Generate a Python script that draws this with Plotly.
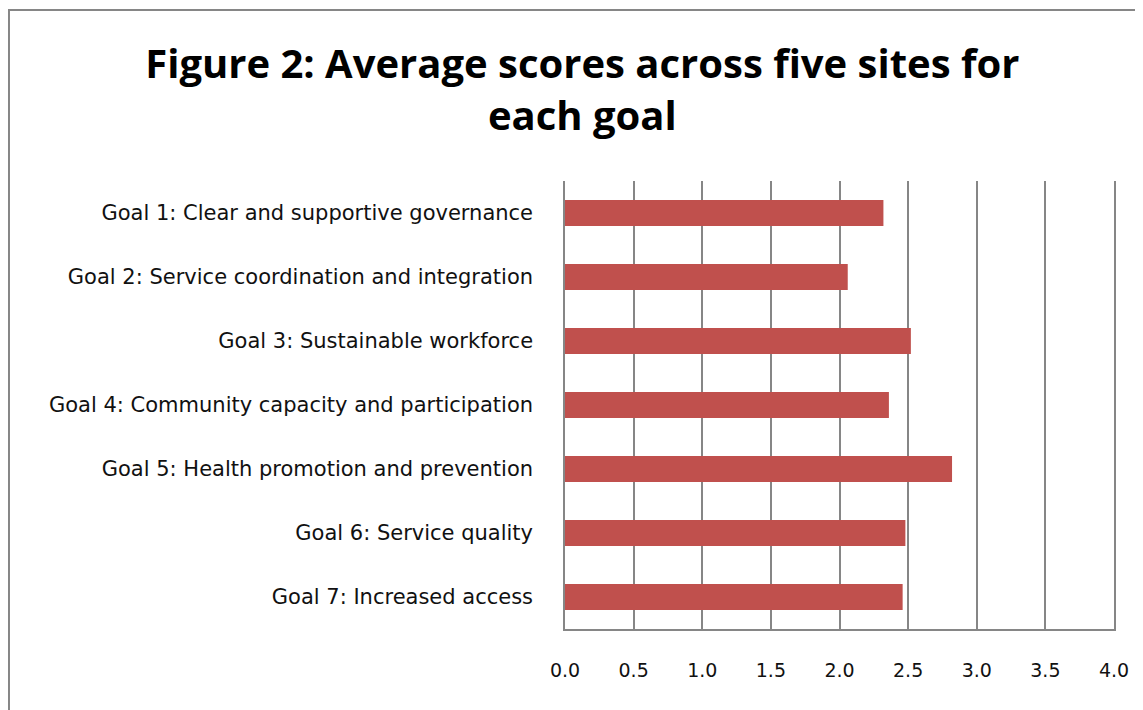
import plotly.graph_objects as go

goals = [
    "Goal 1: Clear and supportive governance",
    "Goal 2: Service coordination and integration",
    "Goal 3: Sustainable workforce",
    "Goal 4: Community capacity and participation",
    "Goal 5: Health promotion and prevention",
    "Goal 6: Service quality",
    "Goal 7: Increased access",
]
scores = [2.32, 2.06, 2.52, 2.36, 2.82, 2.48, 2.46]
x_ticks = [0.0, 0.5, 1.0, 1.5, 2.0, 2.5, 3.0, 3.5, 4.0]

TITLE_FONT = "'Open Sans', sans-serif"
TICK_FONT = "'DejaVu Sans', sans-serif"
GRID = "#868686"

fig = go.Figure(
    go.Bar(
        x=scores,
        y=goals,
        orientation="h",
        width=0.41,
        marker=dict(color="#C0504D", line=dict(width=0)),
    )
)

# page body has an 8px margin, so the figure is 8px smaller than the window
fig.update_layout(
    width=1135,
    height=702,
    paper_bgcolor="white",
    plot_bgcolor="white",
    margin=dict(l=557, r=29, t=173, b=81),
    showlegend=False,
    title=dict(
        text="<b>Figure 2: Average scores across five sites for<br>each goal</b>",
        x=0.506,
        xanchor="center",
        yref="container",
        y=0.9,
        yanchor="middle",
        font=dict(family=TITLE_FONT, size=40, color="black"),
    ),
    font=dict(family=TICK_FONT, size=21, color="#111111"),
    shapes=[
        dict(
            type="rect",
            xref="paper",
            yref="paper",
            x0=-1.0128,
            x1=1.07,
            y0=-0.21,
            y1=1.3817,
            line=dict(color=GRID, width=2),
            layer="below",
        )
    ],
)

fig.update_xaxes(
    range=[0, 4],
    tickvals=x_ticks,
    ticktext=[f"{v:.1f}" for v in x_ticks],
    tickfont=dict(size=19),
    showgrid=True,
    gridcolor=GRID,
    gridwidth=1.5,
    showline=True,
    linecolor=GRID,
    linewidth=1.5,
    zeroline=False,
    ticks="",
    ticklabelstandoff=23,
)

fig.update_yaxes(
    categoryorder="array",
    categoryarray=goals[::-1],
    showgrid=False,
    showline=True,
    mirror=True,
    linecolor=GRID,
    linewidth=1.5,
    zeroline=False,
    ticks="",
    ticklabelstandoff=26,
)

fig.write_html("out.html")
